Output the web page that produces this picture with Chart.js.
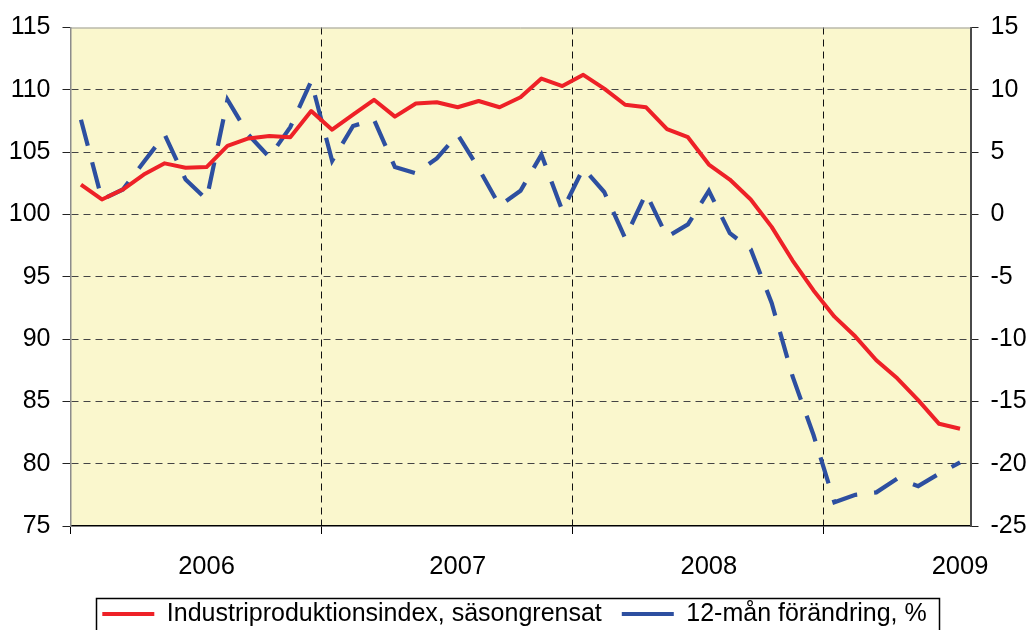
<!DOCTYPE html>
<html><head><meta charset="utf-8">
<script src="https://cdn.jsdelivr.net/npm/chart.js@4/dist/chart.umd.min.js"></script>
<style>html,body{margin:0;padding:0;background:#fff;overflow:hidden}</style>
</head><body>
<canvas id="c" width="1029" height="630"></canvas>
<script>
// ---- data ----
const categories = [
 'jan 2006','feb 2006','mar 2006','apr 2006','maj 2006','jun 2006','jul 2006','aug 2006','sep 2006','okt 2006','nov 2006','dec 2006',
 'jan 2007','feb 2007','mar 2007','apr 2007','maj 2007','jun 2007','jul 2007','aug 2007','sep 2007','okt 2007','nov 2007','dec 2007',
 'jan 2008','feb 2008','mar 2008','apr 2008','maj 2008','jun 2008','jul 2008','aug 2008','sep 2008','okt 2008','nov 2008','dec 2008',
 'jan 2009','feb 2009','mar 2009','apr 2009','maj 2009','jun 2009','jul 2009'
];
const indexValues = [
 102.4,101.2,102.0,103.2,104.1,103.75,103.8,105.5,106.1,106.3,106.2,108.3,
 106.8,108.0,109.2,107.85,108.9,109.0,108.6,109.1,108.6,109.4,110.9,110.3,
 111.2,110.1,108.8,108.6,106.85,106.2,104.0,102.8,101.2,99.0,96.3,93.9,
 91.8,90.2,88.3,86.85,85.1,83.2,82.8
];
const changeValues = [
 7.6,1.2,2.0,4.2,6.4,2.8,1.2,9.2,6.4,4.6,7.0,10.7,
 4.3,7.1,7.6,3.8,3.3,4.5,6.4,3.7,0.7,1.9,4.8,0.3,
 3.7,1.8,-1.9,1.7,-1.8,-0.8,1.9,-1.5,-2.8,-7.1,-13.0,-17.7,
 -23.1,-22.5,-22.3,-21.2,-21.8,-20.8,-19.9
];
const yearTickLabels = ['2006','2007','2008','2009'];
const seriesNames = ['Industriproduktionsindex, säsongrensat','12-mån förändring, %'];
const leftAxis = {min:75, max:115, step:5};
const rightAxis = {min:-25, max:15, step:5};

// ---- styling ----
const FONT = "'Liberation Sans', Arial, sans-serif";
const PLOT_BG = 'rgb(250,247,205)';
const RED = '#EE2127';
const BLUE = '#2D4FA0';

const framePlugin = {
  id: 'frame',
  beforeDraw(chart) {
    const {ctx, chartArea: a} = chart;
    ctx.save();
    ctx.fillStyle = PLOT_BG;
    ctx.fillRect(a.left, a.top, a.right - a.left, a.bottom - a.top);
    ctx.restore();
  },
  afterDraw(chart) {
    const {ctx, chartArea: a} = chart;
    ctx.save();
    ctx.strokeStyle = '#9a9a9a';
    ctx.lineWidth = 1;
    ctx.beginPath();
    ctx.moveTo(a.left, a.top + 0.5);
    ctx.lineTo(a.right, a.top + 0.5);
    ctx.stroke();
    // legend frame
    const lg = chart.legend;
    if (lg && lg.legendHitBoxes && lg.legendHitBoxes.length) {
      const hb = lg.legendHitBoxes;
      const last = hb[hb.length - 1];
      const left = hb[0].left - 6;
      const right = last.left + last.width + 13;
      const top = hb[0].top + hb[0].height / 2 - 16.5;
      ctx.strokeStyle = '#000';
      ctx.lineWidth = 1.5;
      ctx.strokeRect(Math.round(left) + 0.5, Math.round(top) + 0.5, Math.round(right - left), 60);
    }
    ctx.restore();
  }
};

new Chart(document.getElementById('c'), {
  type: 'line',
  data: {
    labels: categories,
    datasets: [
      {
        label: seriesNames[0],
        data: indexValues,
        yAxisID: 'y',
        borderColor: RED,
        backgroundColor: RED,
        borderWidth: 4,
        pointRadius: 0,
        tension: 0,
        borderJoinStyle: 'round',
        borderCapStyle: 'butt'
      },
      {
        label: seriesNames[1],
        data: changeValues,
        yAxisID: 'y1',
        borderColor: BLUE,
        backgroundColor: BLUE,
        borderWidth: 4.2,
        borderDash: [27, 17],
        pointRadius: 0,
        tension: 0,
        borderJoinStyle: 'miter',
        borderCapStyle: 'butt'
      }
    ]
  },
  options: {
    responsive: false,
    animation: false,
    layout: {padding: {top: 27.5, left: 0, right: 0, bottom: 0}},
    plugins: {
      tooltip: {enabled: false},
      legend: {
        position: 'bottom',
        maxHeight: 48.5,
        labels: {
          usePointStyle: true,
          pointStyle: 'line',
          pointStyleWidth: 52,
          padding: 20,
          color: '#000',
          font: {family: FONT, size: 25}
        }
      }
    },
    scales: {
      x: {
        type: 'category',
        offset: true,
        afterFit: s => { s.height = 55.5; },
        grid: {
          offset: true,
          drawOnChartArea: true,
          tickLength: 8,
          lineWidth: 1,
          color: c => (c.index === 12 || c.index === 24 || c.index === 36) ? '#111' : 'rgba(0,0,0,0)',
          tickColor: c => (c.index === 0 || c.index === 12 || c.index === 24 || c.index === 36) ? '#000' : 'rgba(0,0,0,0)'
        },
        border: {display: true, color: '#000', width: 1.5, dash: [7, 5]},
        ticks: {
          autoSkip: false,
          maxRotation: 0,
          minRotation: 0,
          padding: 18,
          color: '#000',
          font: {family: FONT, size: 25.5},
          callback: (v, i) => (i % 12 === 6) ? yearTickLabels[(i - 6) / 12] : ''
        }
      },
      y: {
        position: 'left',
        min: leftAxis.min, max: leftAxis.max,
        afterFit: s => { s.width = 70.5; },
        grid: {
          tickLength: 8,
          lineWidth: 1,
          color: c => (c.tick && (c.tick.value === leftAxis.min || c.tick.value === leftAxis.max)) ? 'rgba(0,0,0,0)' : '#444',
          tickColor: '#222'
        },
        border: {display: true, color: '#8c8c8c', width: 1.5, dash: [7, 5]},
        ticks: {stepSize: leftAxis.step, padding: 12, color: '#000', font: {family: FONT, size: 25}}
      },
      y1: {
        position: 'right',
        min: rightAxis.min, max: rightAxis.max,
        afterFit: s => { s.width = 58.5; },
        grid: {drawOnChartArea: false, tickLength: 8, lineWidth: 1, color: '#333', tickColor: '#222'},
        border: {display: true, color: '#4a4a4a', width: 2},
        ticks: {stepSize: rightAxis.step, padding: 12, color: '#000', font: {family: FONT, size: 25}}
      }
    }
  },
  plugins: [framePlugin]
});
</script>
</body></html>
